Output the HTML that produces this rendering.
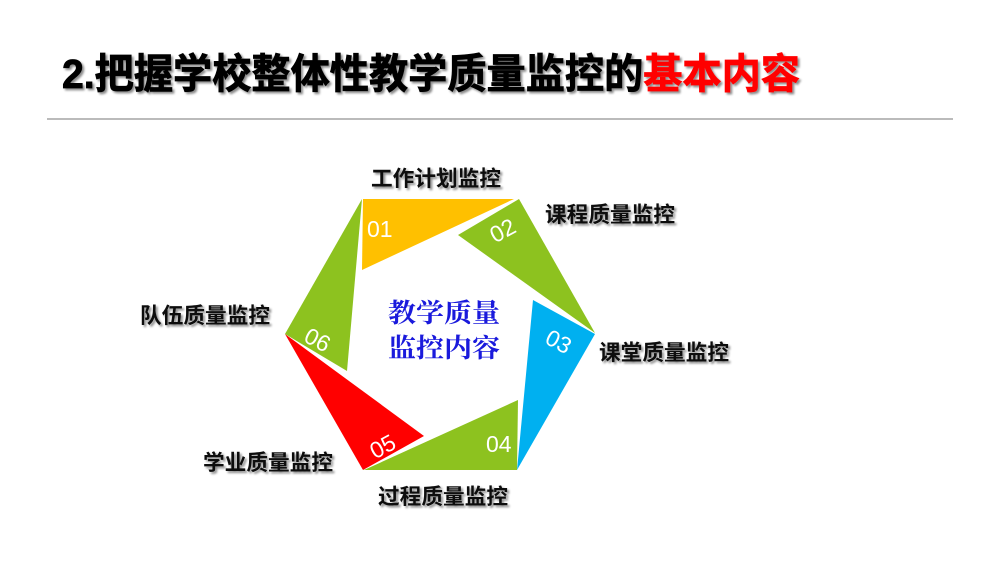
<!DOCTYPE html>
<html><head><meta charset="utf-8"><style>
html,body{margin:0;padding:0;background:#fff;width:1000px;height:562px;overflow:hidden}
</style></head><body>
<svg width="1000" height="562" viewBox="0 0 1000 562" xmlns="http://www.w3.org/2000/svg">
<defs><filter id="sh" x="-5%" y="-20%" width="110%" height="140%"><feDropShadow dx="2" dy="2" stdDeviation="1" flood-color="#000" flood-opacity="0.45"/></filter></defs>
<g font-family="'Liberation Sans','Noto Sans CJK SC',sans-serif" font-weight="bold" filter="url(#sh)">
<text x="62" y="88" font-size="41" textLength="738" lengthAdjust="spacingAndGlyphs" stroke="#000" stroke-width="0.8"><tspan fill="#000">2.把握学校整体性教学质量监控的</tspan><tspan fill="#ff0000" stroke="#ff0000">基本内容</tspan></text>
</g>
<line x1="47" y1="119" x2="953" y2="119" stroke="#bbb" stroke-width="2"/>
<polygon points="363,199 514,199 362,270" fill="#ffc000"/>
<polygon points="519,199 595,333 458,235" fill="#8dc21f"/>
<polygon points="595,334 517,470 533,300" fill="#00b0f0"/>
<polygon points="517,470 364,470 518,400" fill="#8dc21f"/>
<polygon points="363,470 285,334 424,436" fill="#ff0000"/>
<polygon points="285,334 362,199 347,371" fill="#8dc21f"/>
<g font-family="'Liberation Sans',sans-serif" font-size="23" fill="#fff">
<text x="367" y="237">01</text>
<text x="489" y="237" transform="rotate(-28 505 228)">02</text>
<text x="547" y="351" transform="rotate(28 562 340)">03</text>
<text x="486" y="452">04</text>
<text x="369" y="453" transform="rotate(-28 385 444)">05</text>
<text x="305" y="349" transform="rotate(28 320 340)">06</text>
</g>
<g font-family="'Liberation Sans','Noto Sans CJK SC',sans-serif" font-weight="bold" font-size="21.5" fill="#111" filter="url(#sh)">
<text x="371" y="186" textLength="130" lengthAdjust="spacingAndGlyphs">工作计划监控</text>
<text x="545" y="222" textLength="130" lengthAdjust="spacingAndGlyphs">课程质量监控</text>
<text x="140" y="323" textLength="130" lengthAdjust="spacingAndGlyphs">队伍质量监控</text>
<text x="599" y="360" textLength="130" lengthAdjust="spacingAndGlyphs">课堂质量监控</text>
<text x="203" y="470" textLength="130" lengthAdjust="spacingAndGlyphs">学业质量监控</text>
<text x="378" y="504" textLength="130" lengthAdjust="spacingAndGlyphs">过程质量监控</text>
</g>
<g font-family="'Noto Serif CJK SC',serif" font-weight="bold" font-size="26" fill="#1a1adc">
<text x="388" y="322" textLength="112" lengthAdjust="spacingAndGlyphs">教学质量</text>
<text x="388" y="357" textLength="112" lengthAdjust="spacingAndGlyphs">监控内容</text>
</g>
</svg>
</body></html>
